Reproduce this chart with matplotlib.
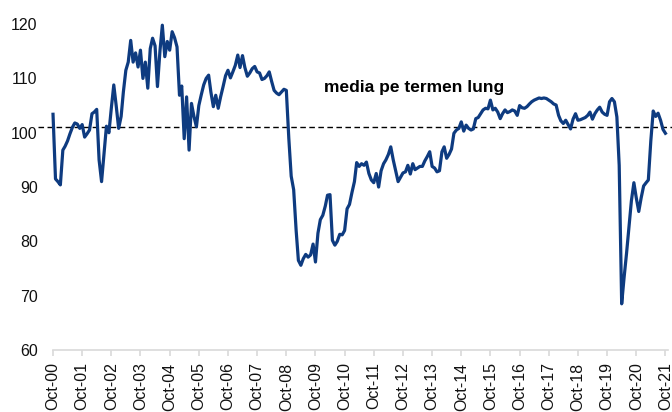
import pandas as pd
import matplotlib
matplotlib.use("Agg")
import matplotlib.pyplot as plt
import matplotlib.dates as mdates

plt.rcParams['font.family'] = ['Liberation Sans', 'DejaVu Sans']

# monthly index, Oct-2000 .. Oct-2021
start = "2000-10-01"
values = [
    103.4, 91.5, 91.0, 90.4, 96.8, 97.5, 98.5, 99.8, 101.0, 101.8,
    101.6, 100.8, 101.5, 99.2, 99.8, 100.5, 103.5, 103.8, 104.3, 95.0,
    91.0, 96.0, 101.2, 100.0, 104.5, 108.8, 105.0, 100.8, 103.0, 107.5,
    111.5, 113.0, 117.0, 113.0, 114.7, 112.1, 115.2, 110.0, 113.0, 108.2,
    115.5, 117.4, 116.0, 108.5, 115.0, 119.8, 114.0, 116.8, 115.2, 118.6,
    117.5, 115.8, 106.9, 108.6, 98.9, 106.6, 96.8, 105.4, 103.0, 101.1,
    105.0, 107.0, 108.8, 110.0, 110.6, 107.5, 104.8, 106.9, 104.5, 106.6,
    108.5, 110.5, 111.5, 110.1, 111.2, 112.4, 114.3, 112.0, 114.2, 112.0,
    110.4, 111.0, 111.8, 112.2, 111.2, 111.0, 109.8, 110.0, 110.5, 111.2,
    109.4, 107.8, 107.3, 107.0, 107.5, 108.0, 107.8, 99.0, 92.0, 89.5,
    82.0, 76.5, 75.6, 76.8, 77.6, 77.1, 77.5, 79.5, 76.2, 81.5,
    84.0, 84.8, 86.5, 88.5, 88.6, 80.2, 79.3, 80.0, 81.3, 81.2,
    82.0, 86.0, 86.8, 89.0, 91.0, 94.5, 93.8, 94.3, 94.0, 94.6,
    92.5, 91.3, 90.8, 92.5, 90.0, 93.0, 94.3, 95.0, 96.0, 97.4,
    95.0, 93.0, 91.0, 91.8, 92.6, 92.8, 94.0, 92.4, 94.3, 93.2,
    93.5, 93.8, 93.8, 94.8, 95.6, 96.5, 93.8, 93.5, 92.8, 93.0,
    96.5, 97.4, 95.3, 96.0, 97.0, 99.9, 100.5, 100.8, 102.0, 100.3,
    101.4, 100.8, 100.5, 100.7, 102.6, 102.8, 103.5, 104.2, 104.5, 104.4,
    106.0, 104.2, 104.5, 103.8, 102.6, 103.5, 104.2, 103.7, 103.9, 104.2,
    104.0, 103.2, 105.0, 104.6, 104.5, 104.8, 105.3, 105.7, 106.0, 106.2,
    106.4, 106.3, 106.4, 106.3, 106.0, 105.7, 105.3, 105.1, 103.2, 102.2,
    101.7, 102.3, 101.5, 100.7, 102.5, 103.5, 102.3, 102.4, 102.6, 102.8,
    103.2, 103.8, 102.5, 103.5, 104.2, 104.7, 103.8, 103.4, 103.2, 105.7,
    106.3, 105.7, 102.9, 94.0, 68.5, 73.3, 77.8, 82.5, 87.5, 90.8,
    88.0, 85.5, 88.0, 90.2, 90.8, 91.3, 98.5, 104.0, 103.0, 103.6,
    102.3, 100.6, 99.9,
]
long_term_avg = 101.0
avg_label = "media pe termen lung"

dates = pd.date_range(start, periods=len(values), freq="MS")

fig = plt.figure(figsize=(6.72, 4.12), dpi=100)
ax = fig.add_axes([0.0789, 0.1505, 0.915, 0.791])

ax.plot(dates, values, color="#0E3B80", lw=2.3, clip_on=False, zorder=3)
ax.axhline(long_term_avg, xmin=-0.024, xmax=1.01, color="black", lw=1.0,
           ls=(0, (4, 2.5)), clip_on=False, zorder=2)
ax.text(pd.Timestamp("2010-01-15"), 108.4, avg_label, fontsize=12.5,
        fontweight="bold", ha="left", va="center")

ax.set_ylim(60, 120)
ax.set_yticks([60, 70, 80, 90, 100, 110, 120])
ax.set_xlim(pd.Timestamp(start), pd.Timestamp("2021-11-01"))
oct_ticks = pd.date_range(start, "2021-10-01", freq="12MS")
ax.set_xticks(oct_ticks)
ax.xaxis.set_major_formatter(mdates.DateFormatter("Oct-%y"))

for s in ["top", "right", "left"]:
    ax.spines[s].set_visible(False)
ax.spines["bottom"].set_color("#d9d9d9")
ax.spines["bottom"].set_linewidth(1.2)

ax.tick_params(axis="x", direction="out", length=4, width=1.2, color="#d9d9d9",
               labelsize=11.5, labelrotation=90, pad=5, labelcolor="#111111")
ax.tick_params(axis="y", length=0, labelsize=11.5, pad=11, labelcolor="#111111")

fig.savefig("out.png", dpi=100)
